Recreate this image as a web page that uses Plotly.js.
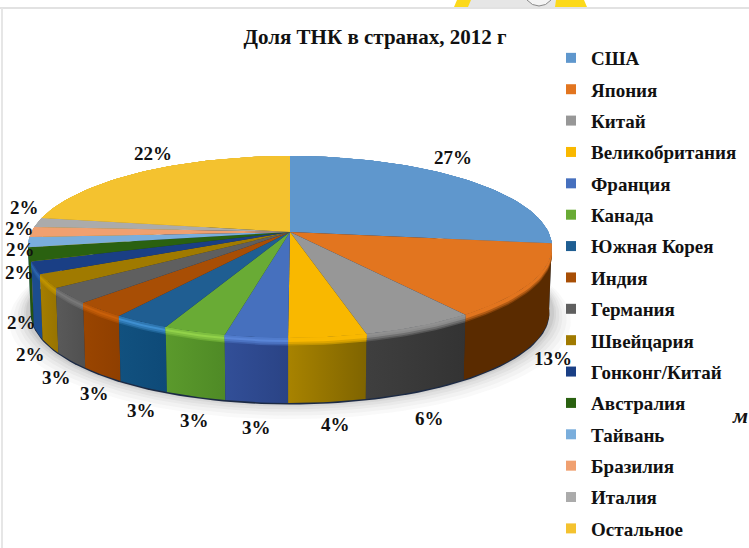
<!DOCTYPE html>
<html><head><meta charset="utf-8">
<script src="https://cdn.plot.ly/plotly-3.0.1.min.js"></script>
<style>html,body{margin:0;padding:0;background:#fff}#c{width:749px;height:548px}</style></head>
<body><div id="c"></div>
<script>
const categories = ['США','Япония','Китай','Великобритания','Франция','Канада','Южная Корея','Индия','Германия','Швейцария','Гонконг/Китай','Австралия','Тайвань','Бразилия','Италия','Остальное'];
const shares = [27,13,6,4.1,3.3,3.3,3,2.8,2.8,2.4,2.2,2.4,1.8,1.8,1.7,22.4];
const chartTitle = 'Доля ТНК в странах, 2012 г';

const topColors = ['#5f97cd','#e2751f','#979797','#f9b800','#4670be','#69ab35','#1f5e92','#a84e05','#5f5f5f','#a07a00','#1a3f85','#2a6110','#7aaedc','#f0a070','#ababab','#f4c22f'];
const rimGlow   = ['#5f97cd','#e2751f','#8a8a8a','#f9b800','#5a86d8','#92d24a','#3f8fd0','#c9600a','#787878','#c09400','#2d66b0','#2a6110','#7aaedc','#f0a070','#ababab','#f4c22f'];
const sideLeft  = ['#3c6a96','#5a2b00','#3f3f3f','#a88300','#324f98','#5b9a2c','#11517f','#9a4500','#5a5a5a','#a67e00','#1c4d8e','#245410','#5c8cb8','#c07a48','#888888','#b08a10'];
const sideRight = ['#3c6a96','#5a2b00','#333333','#7f6400','#2a4385','#4f8a26','#0e4a78','#8f3f00','#505050','#977300','#1c4d8e','#245410','#5c8cb8','#c07a48','#888888','#b08a10'];
const labelShift = [[-12,-22],[20,77],[10,92],[8,87],[0,90],[0,89],[0,89],[-6,84],[-12,82],[-17,73],[-13,55],[-9,18],[-8,7],[-12,-4],[-13,-15],[12,-19]];

// perspective view of the disc
const CX=290, CY=232, AX=258.4, BY=88.5, K=0.165, DEPTH=65;
const SERIF='"Liberation Serif","Times New Roman",serif';
function proj(pct, r, drop, sx){
  const t=pct/100*2*Math.PI, X=r*Math.sin(t), Y=-r*Math.cos(t), w=1-K*Y;
  return [CX+(sx||1)*AX*X/w, CY+BY*Y/w+(drop||0)];
}
function arc(a,b,r,drop,sx){
  const n=Math.max(4,Math.ceil((b-a)*2)), pts=[];
  for(let i=0;i<=n;i++) pts.push(proj(a+(b-a)*i/n,r,drop,sx));
  return pts;
}
function poly(pts,extra){
  return Object.assign({type:'scatter',mode:'lines',x:pts.map(p=>p[0]),y:pts.map(p=>p[1]),fill:'toself',
    line:{width:0},hoverinfo:'skip',showlegend:false},extra);
}
function hex(c){return [1,3,5].map(i=>parseInt(c.substr(i,2),16));}
function mix(a,b,f){const A=hex(a),B=hex(b);return 'rgb('+A.map((v,i)=>Math.round(v+(B[i]-v)*f)).join(',')+')';}

const traces=[];
// soft ground shadow
[[18,0.03],[14,0.035],[10,0.04],[7,0.05],[4,0.06],[2,0.07]].forEach(s=>{
  const pts=arc(0,100,1+s[0]/260,DEPTH+s[0]*0.4,1);
  traces.push(poly(pts,{fillcolor:'rgba(60,60,60,'+s[1]+')'}));
});
let cum=0; const bounds=shares.map(v=>{const a=cum;cum+=v;return [a,cum];});
const midY=b=>proj((b[0]+b[1])/2,1)[1];
const backToFront=bounds.map((b,i)=>i).sort((p,q)=>midY(bounds[p])-midY(bounds[q]));
// dark bottom lip + sides
traces.push(poly(arc(0,100,1,DEPTH+1.5,0.99),{fillcolor:'#1c2a44'}));
backToFront.forEach(i=>{
  const b=bounds[i];
  const pts=arc(b[0],b[1],1,0).concat(arc(b[0],b[1],1,DEPTH,0.99).reverse());
  traces.push(poly(pts,{fillcolor:sideLeft[i],fillgradient:{type:'horizontal',colorscale:[[0,sideLeft[i]],[1,sideRight[i]]]}}));
});
// bevel between face and side
backToFront.forEach(i=>{
  const b=bounds[i];
  [[7.5,mix(rimGlow[i],sideLeft[i],0.7)],[6,mix(rimGlow[i],sideLeft[i],0.35)],[4,rimGlow[i]],[2,mix(topColors[i],rimGlow[i],0.5)]].forEach(bd=>{
    const pts=arc(b[0],b[1],1,0).concat(arc(b[0],b[1],1,bd[0]).reverse());
    traces.push(poly(pts,{fillcolor:bd[1]}));
  });
});
// top faces
bounds.forEach((b,i)=>{
  const pts=[[CX,CY]].concat(arc(b[0],b[1],1,0));
  traces.push(poly(pts,{fillcolor:topColors[i]}));
});
// legend entries
categories.forEach((c,i)=>{
  traces.push({type:'scatter',mode:'markers',x:[null],y:[null],name:c,hoverinfo:'skip',legendgroup:c,
    marker:{symbol:'square',size:10,color:topColors[i],line:{width:0}},showlegend:true});
});

const annotations=bounds.map((b,i)=>{
  const p=proj((b[0]+b[1])/2,1);
  return {x:p[0],y:p[1],xref:'x',yref:'y',xshift:labelShift[i][0],yshift:-labelShift[i][1],
    text:Math.round(shares[i])+'%',showarrow:false,font:{family:SERIF,size:19,color:'#111',weight:'bold'}};
});
annotations.push({x:740,y:415,xref:'x',yref:'y',text:'<b><i>м</i></b>',showarrow:false,font:{family:SERIF,size:22,color:'#111'}});

const layout={
  width:749,height:548,margin:{l:0,r:0,t:0,b:0},paper_bgcolor:'#fff',plot_bgcolor:'rgba(0,0,0,0)',
  title:{text:'<b>'+chartTitle+'</b>',x:375/749,xanchor:'center',y:1-37/548,yanchor:'middle',font:{family:SERIF,size:21,color:'#111'}},
  xaxis:{range:[0,749],visible:false,fixedrange:true},
  yaxis:{range:[548,0],visible:false,fixedrange:true},
  showlegend:true,
  legend:{x:551/749,xanchor:'left',y:1-53/548,yanchor:'top',bgcolor:'rgba(0,0,0,0)',tracegroupgap:3.67,
    font:{family:SERIF,size:19,color:'#111',weight:'bold'}},
  annotations,
  shapes:[
    {type:'rect',xref:'x',yref:'y',x0:0,x1:749,y0:7,y1:9,fillcolor:'#e2e2e2',line:{width:0},layer:'below'},
    {type:'rect',xref:'x',yref:'y',x0:1,x1:3,y0:8,y1:548,fillcolor:'#e6e6e6',line:{width:0},layer:'below'},
    {type:'rect',xref:'x',yref:'y',x0:468,x1:556,y0:0,y1:7,fillcolor:'#e6e6e6',line:{width:0},layer:'below'},
    {type:'path',xref:'x',yref:'y',path:'M457,0 L471,0 L468,7 L454,7 Z',fillcolor:'#fcd91a',line:{width:0},layer:'below'},
    {type:'path',xref:'x',yref:'y',path:'M556,0 L584,0 L587,7 L555,7 Z',fillcolor:'#fcd91a',line:{width:0},layer:'below'},
    {type:'path',xref:'x',yref:'y',path:'M527,0 Q532,6 539,6 Q546,6 551,0',fillcolor:'#f4f4f4',line:{width:1,color:'#888'},layer:'below'}
  ]
};
Plotly.newPlot('c',traces,layout,{displayModeBar:false,responsive:false});
</script></body></html>
